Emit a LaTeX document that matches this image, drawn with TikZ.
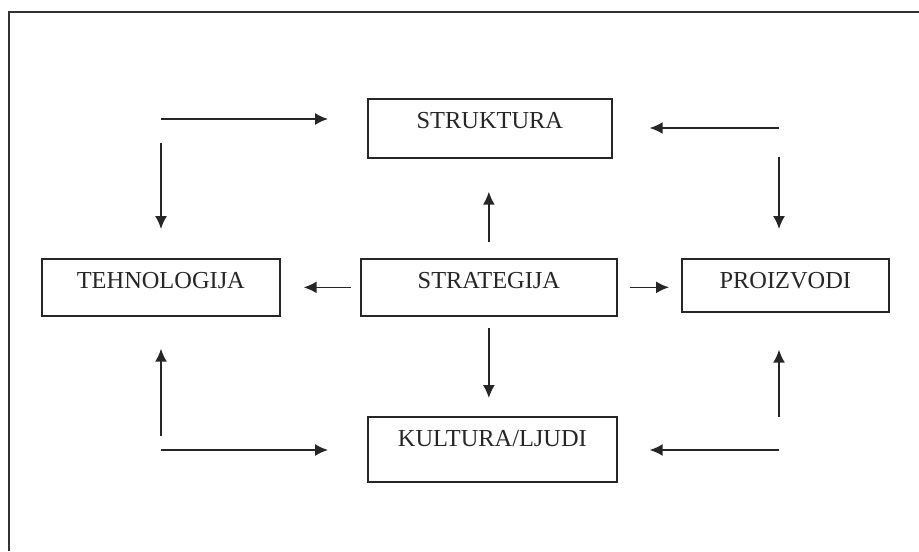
\documentclass[tikz,border=0pt]{standalone}
\usepackage{fontspec}
\setmainfont{Liberation Serif}
\usetikzlibrary{arrows.meta}
\tikzset{
  box/.style={draw=black!85,line width=0.85pt,inner sep=0pt,anchor=north west,
    text height=15pt,font=\fontsize{12.2}{14}\selectfont,text=black!85},
  arr/.style={-{Latex[length=6.5pt,width=6pt]},line width=0.75pt,draw=black!85}
}
\begin{document}
\begin{tikzpicture}[x=0.5pt,y=-0.5pt]
    \useasboundingbox (0,0) rectangle (919,551);
    \draw[line width=0.8pt,black!80] (9,551) -- (9,12) -- (919,12);
    \node[box,minimum width=122pt,text depth=14.5pt] (strukt) at (367,98) {STRUKTURA};
    \node[box,minimum width=119pt,text depth=13.5pt] (tech) at (41,258) {TEHNOLOGIJA};
    \node[box,minimum width=128pt,text depth=13.5pt] (strat) at (360,258) {STRATEGIJA};
    \node[box,minimum width=103.5pt,text depth=11.5pt] (proiz) at (681,258) {PROIZVODI};
    \node[box,minimum width=124.5pt,text depth=17.5pt] (kult) at (367,416) {KULTURA/LJUDI};
    \coordinate (tl) at (161,119);
    \coordinate (tr) at (779,128);
    \coordinate (bl) at (161,450);
    \coordinate (br) at (779,450);
    % iz strategije
    \draw[arr,shorten <=8pt,shorten >=16.5pt] (strat.north) -- (strat.north |- strukt.south);
    \draw[arr,shorten <=5.5pt,shorten >=9pt] (strat.south) -- (strat.south |- kult.north);
    \draw[arr,shorten <=4.5pt,shorten >=11.5pt] (strat.west) -- (tech.east);
    \draw[arr,shorten <=6pt,shorten >=6pt] (strat.east) -- (strat.east -| proiz.west);
    % kutovi
    \draw[arr,shorten >=19.5pt] (tl) -- (tl -| strukt.west);
    \draw[arr,shorten <=12pt,shorten >=14.5pt] (tl) -- (tl |- tech.north);
    \draw[arr,shorten >=18.5pt] (tr) -- (tr -| strukt.east);
    \draw[arr,shorten <=14.5pt,shorten >=14.5pt] (tr) -- (tr |- proiz.north);
    \draw[arr,shorten <=7pt,shorten >=16pt] (bl) -- (bl |- tech.south);
    \draw[arr,shorten >=19.5pt] (bl) -- (bl -| kult.west);
    \draw[arr,shorten <=16.5pt,shorten >=18.5pt] (br) -- (br |- proiz.south);
    \draw[arr,shorten >=16pt] (br) -- (br -| kult.east);
\end{tikzpicture}
\end{document}
